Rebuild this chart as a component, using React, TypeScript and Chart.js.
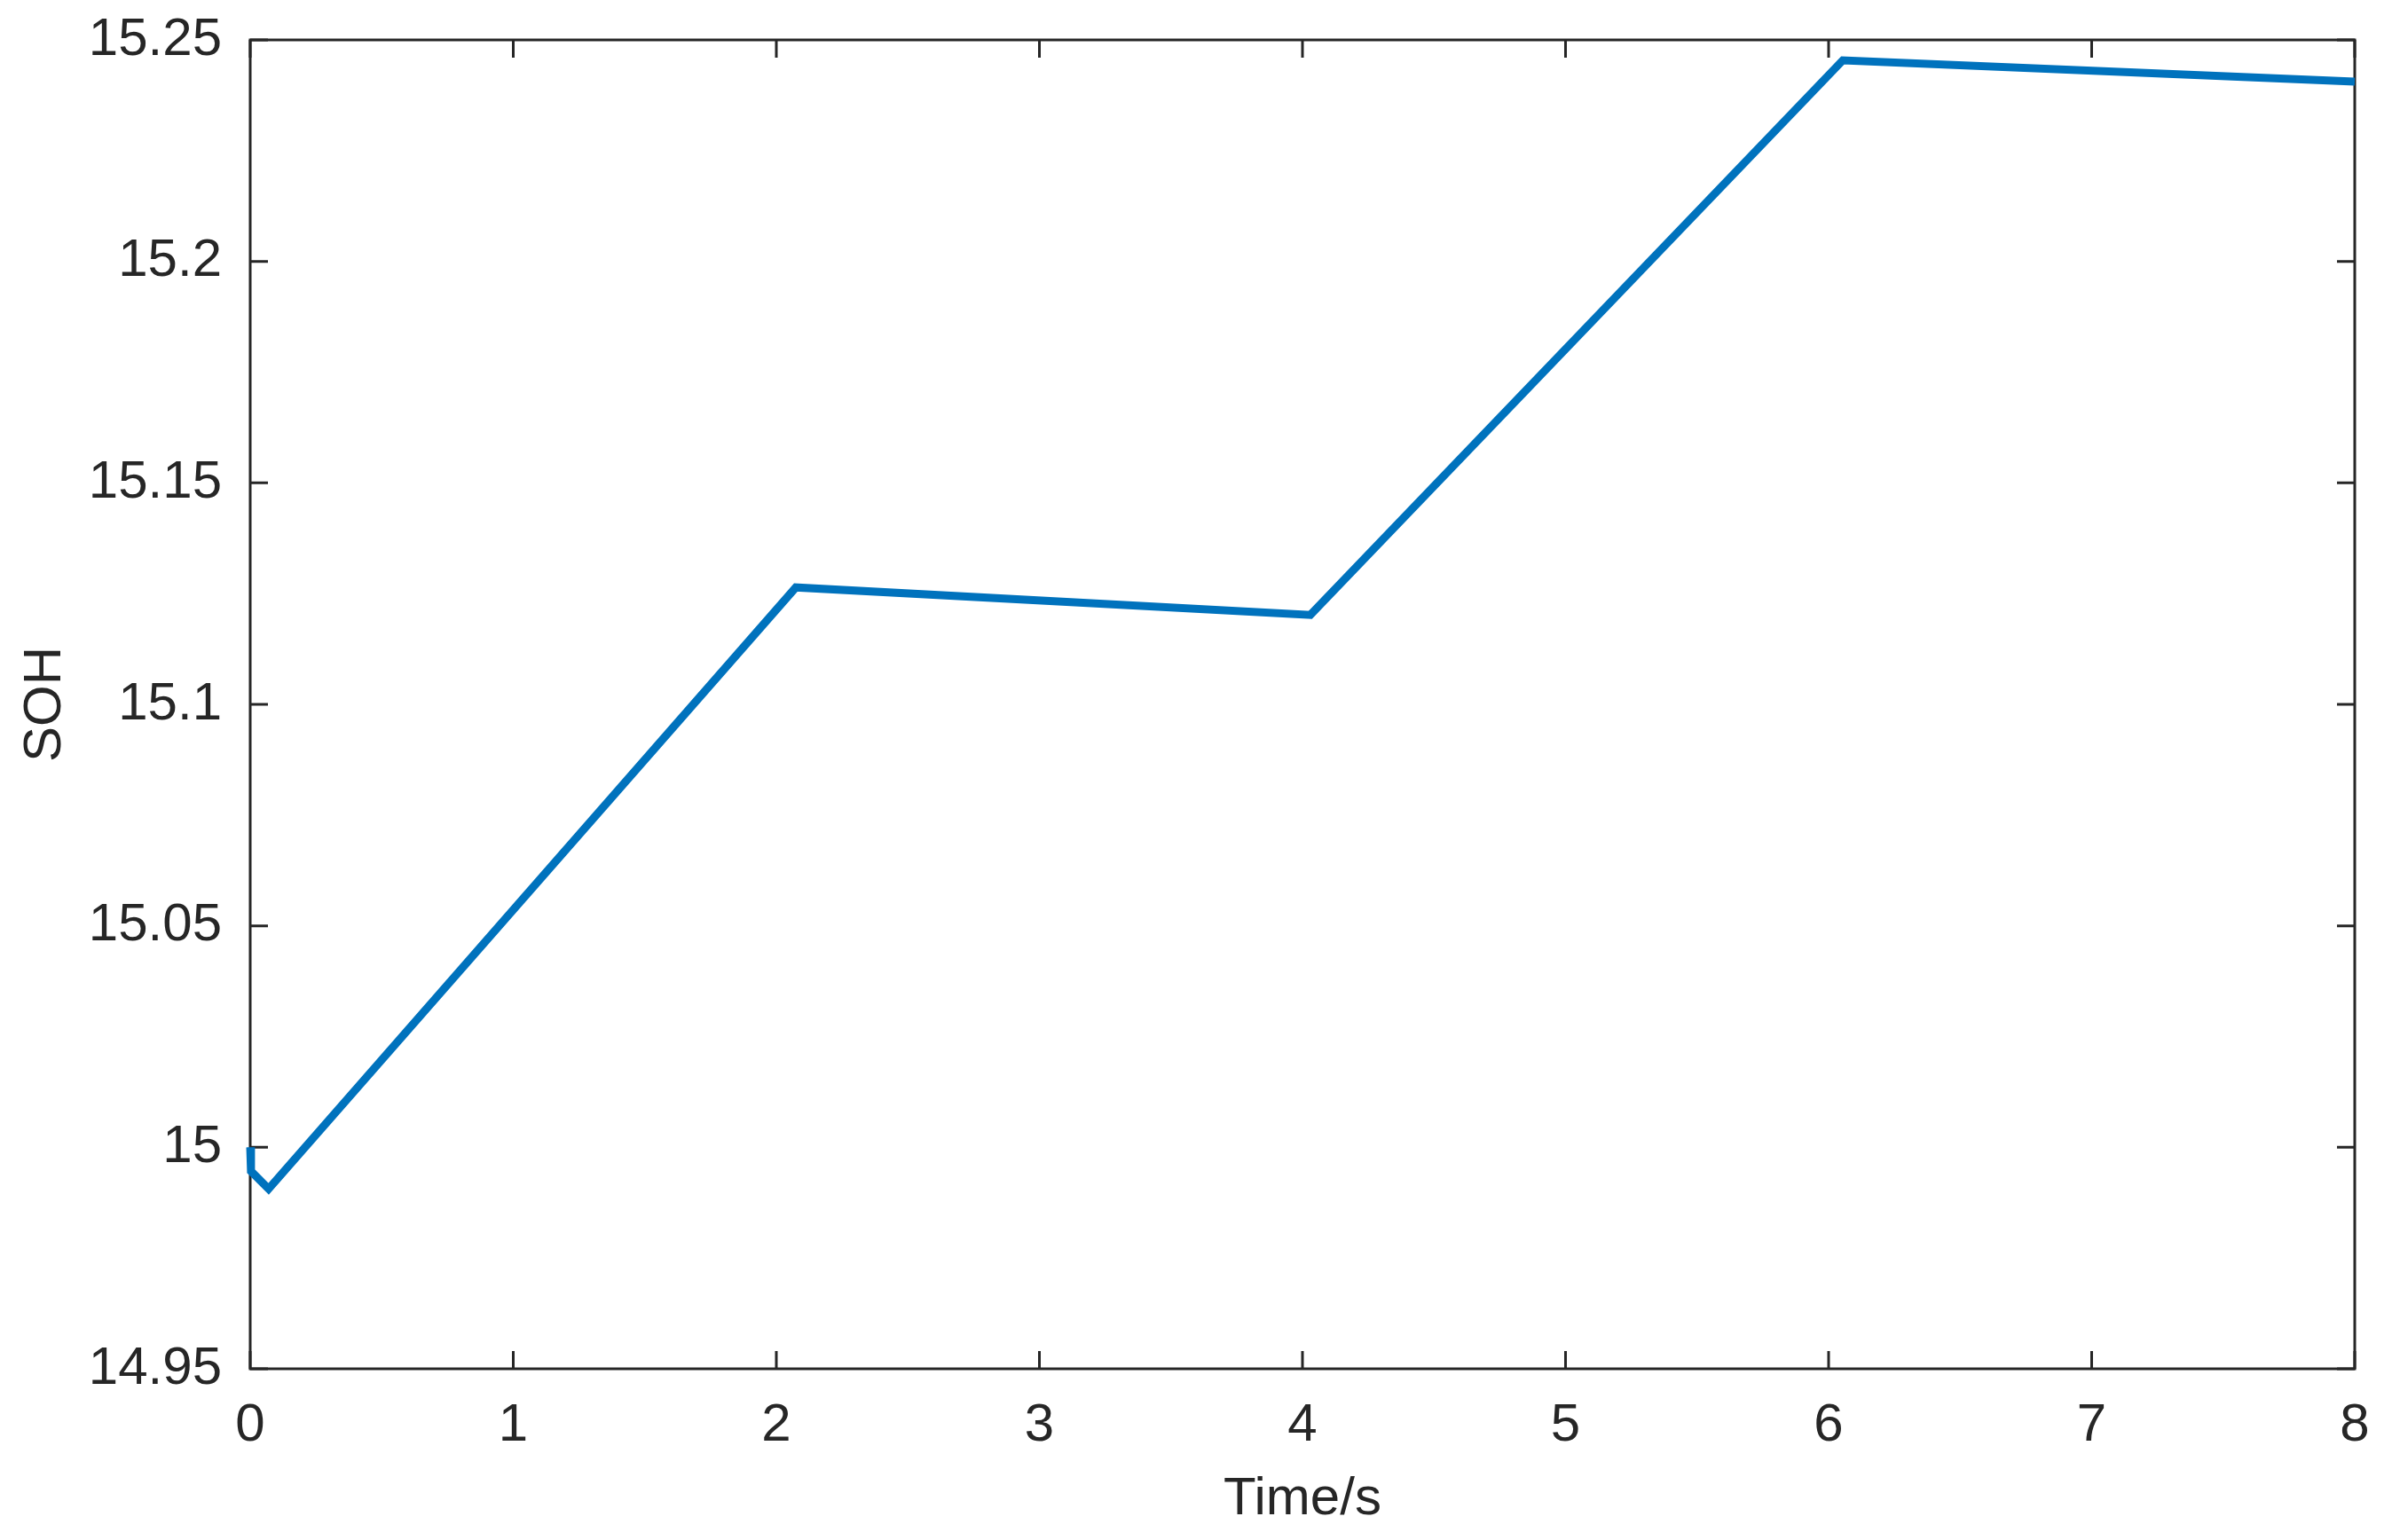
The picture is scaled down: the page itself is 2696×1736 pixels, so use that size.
import React, { useEffect, useRef } from "react";
import { Chart, registerables } from "chart.js";

Chart.register(...registerables);

// Data
const timeValues = [0, 0.003, 0.07, 2.074, 4.03, 6.054, 8];
const sohValues = [15.0, 14.9946, 14.9906, 15.1264, 15.1202, 15.2454, 15.2406];

const xTicks = [0, 1, 2, 3, 4, 5, 6, 7, 8];
const xTickLabels = ["0", "1", "2", "3", "4", "5", "6", "7", "8"];
const yTicks = [14.95, 15.0, 15.05, 15.1, 15.15, 15.2, 15.25];
const yTickLabels = ["14.95", "15", "15.05", "15.1", "15.15", "15.2", "15.25"];

const xTitle = "Time/s";
const yTitle = "SOH";

const FONT = "'Liberation Sans', Arial, Helvetica, sans-serif";
const TEXT = "#262626";

const framePlugin = {
  id: "matlabFrame",
  beforeDatasetsDraw(chart: any) {
    const { ctx, chartArea, scales } = chart;
    const { left, right, top, bottom } = chartArea;
    const x = scales.x;
    const y = scales.y;
    const tl = 20;
    ctx.save();
    ctx.strokeStyle = TEXT;
    ctx.lineWidth = 3;
    ctx.beginPath();
    for (const v of xTicks) {
      const px = x.getPixelForValue(v);
      ctx.moveTo(px, bottom);
      ctx.lineTo(px, bottom - tl);
      ctx.moveTo(px, top);
      ctx.lineTo(px, top + tl);
    }
    for (const v of yTicks) {
      const py = y.getPixelForValue(v);
      ctx.moveTo(left, py);
      ctx.lineTo(left + tl, py);
      ctx.moveTo(right, py);
      ctx.lineTo(right - tl, py);
    }
    ctx.stroke();
    ctx.strokeRect(left, top, right - left, bottom - top);
    ctx.restore();
  },
};

export default function App() {
  const ref = useRef<HTMLCanvasElement | null>(null);

  useEffect(() => {
    document.body.style.margin = "0";
    const canvas = ref.current;
    if (!canvas) return;
    const chart = new Chart(canvas, {
      type: "line",
      data: {
        datasets: [
          {
            data: timeValues.map((t, i) => ({ x: t, y: sohValues[i] })),
            borderColor: "#0072BD",
            borderWidth: 9,
            pointRadius: 0,
            fill: false,
            tension: 0,
            borderJoinStyle: "miter",
            clip: false as any,
          },
        ],
      },
      options: {
        animation: false,
        responsive: false,
        devicePixelRatio: 1,
        layout: { padding: { top: 45, right: 42, left: 0, bottom: 0 } },
        plugins: {
          legend: { display: false },
          tooltip: { enabled: false },
        },
        scales: {
          x: {
            type: "linear",
            min: 0,
            max: 8,
            grid: { display: false, drawTicks: false },
            border: { display: false },
            afterBuildTicks: (scale: any) => {
              scale.ticks = xTicks.map((v) => ({ value: v }));
            },
            afterFit: (scale: any) => {
              scale.height = 193;
              scale.paddingLeft = 0;
              scale.paddingRight = 0;
            },
            ticks: {
              color: TEXT,
              padding: 28,
              maxRotation: 0,
              autoSkip: false,
              font: { family: FONT, size: 60 },
              callback: (_v: any, i: number) => xTickLabels[i],
            },
            title: {
              display: true,
              text: xTitle,
              color: TEXT,
              font: { family: FONT, size: 60 },
              padding: { top: 0, bottom: 10 },
            },
          },
          y: {
            type: "linear",
            min: 14.95,
            max: 15.25,
            grid: { display: false, drawTicks: false },
            border: { display: false },
            afterBuildTicks: (scale: any) => {
              scale.ticks = yTicks.map((v) => ({ value: v }));
            },
            afterFit: (scale: any) => {
              scale.width = 282;
              scale.paddingTop = 0;
              scale.paddingBottom = 0;
            },
            ticks: {
              color: TEXT,
              padding: 32,
              autoSkip: false,
              font: { family: FONT, size: 60 },
              callback: (_v: any, i: number) => yTickLabels[i],
            },
            title: {
              display: true,
              text: yTitle,
              color: TEXT,
              font: { family: FONT, size: 60 },
              padding: { top: 15, bottom: 0 },
            },
          },
        },
      },
      plugins: [framePlugin],
    });
    return () => chart.destroy();
  }, []);

  return (
    <div style={{ width: 2696, height: 1736, background: "#fff" }}>
      <canvas ref={ref} width={2696} height={1736} style={{ width: 2696, height: 1736, display: "block" }} />
    </div>
  );
}
